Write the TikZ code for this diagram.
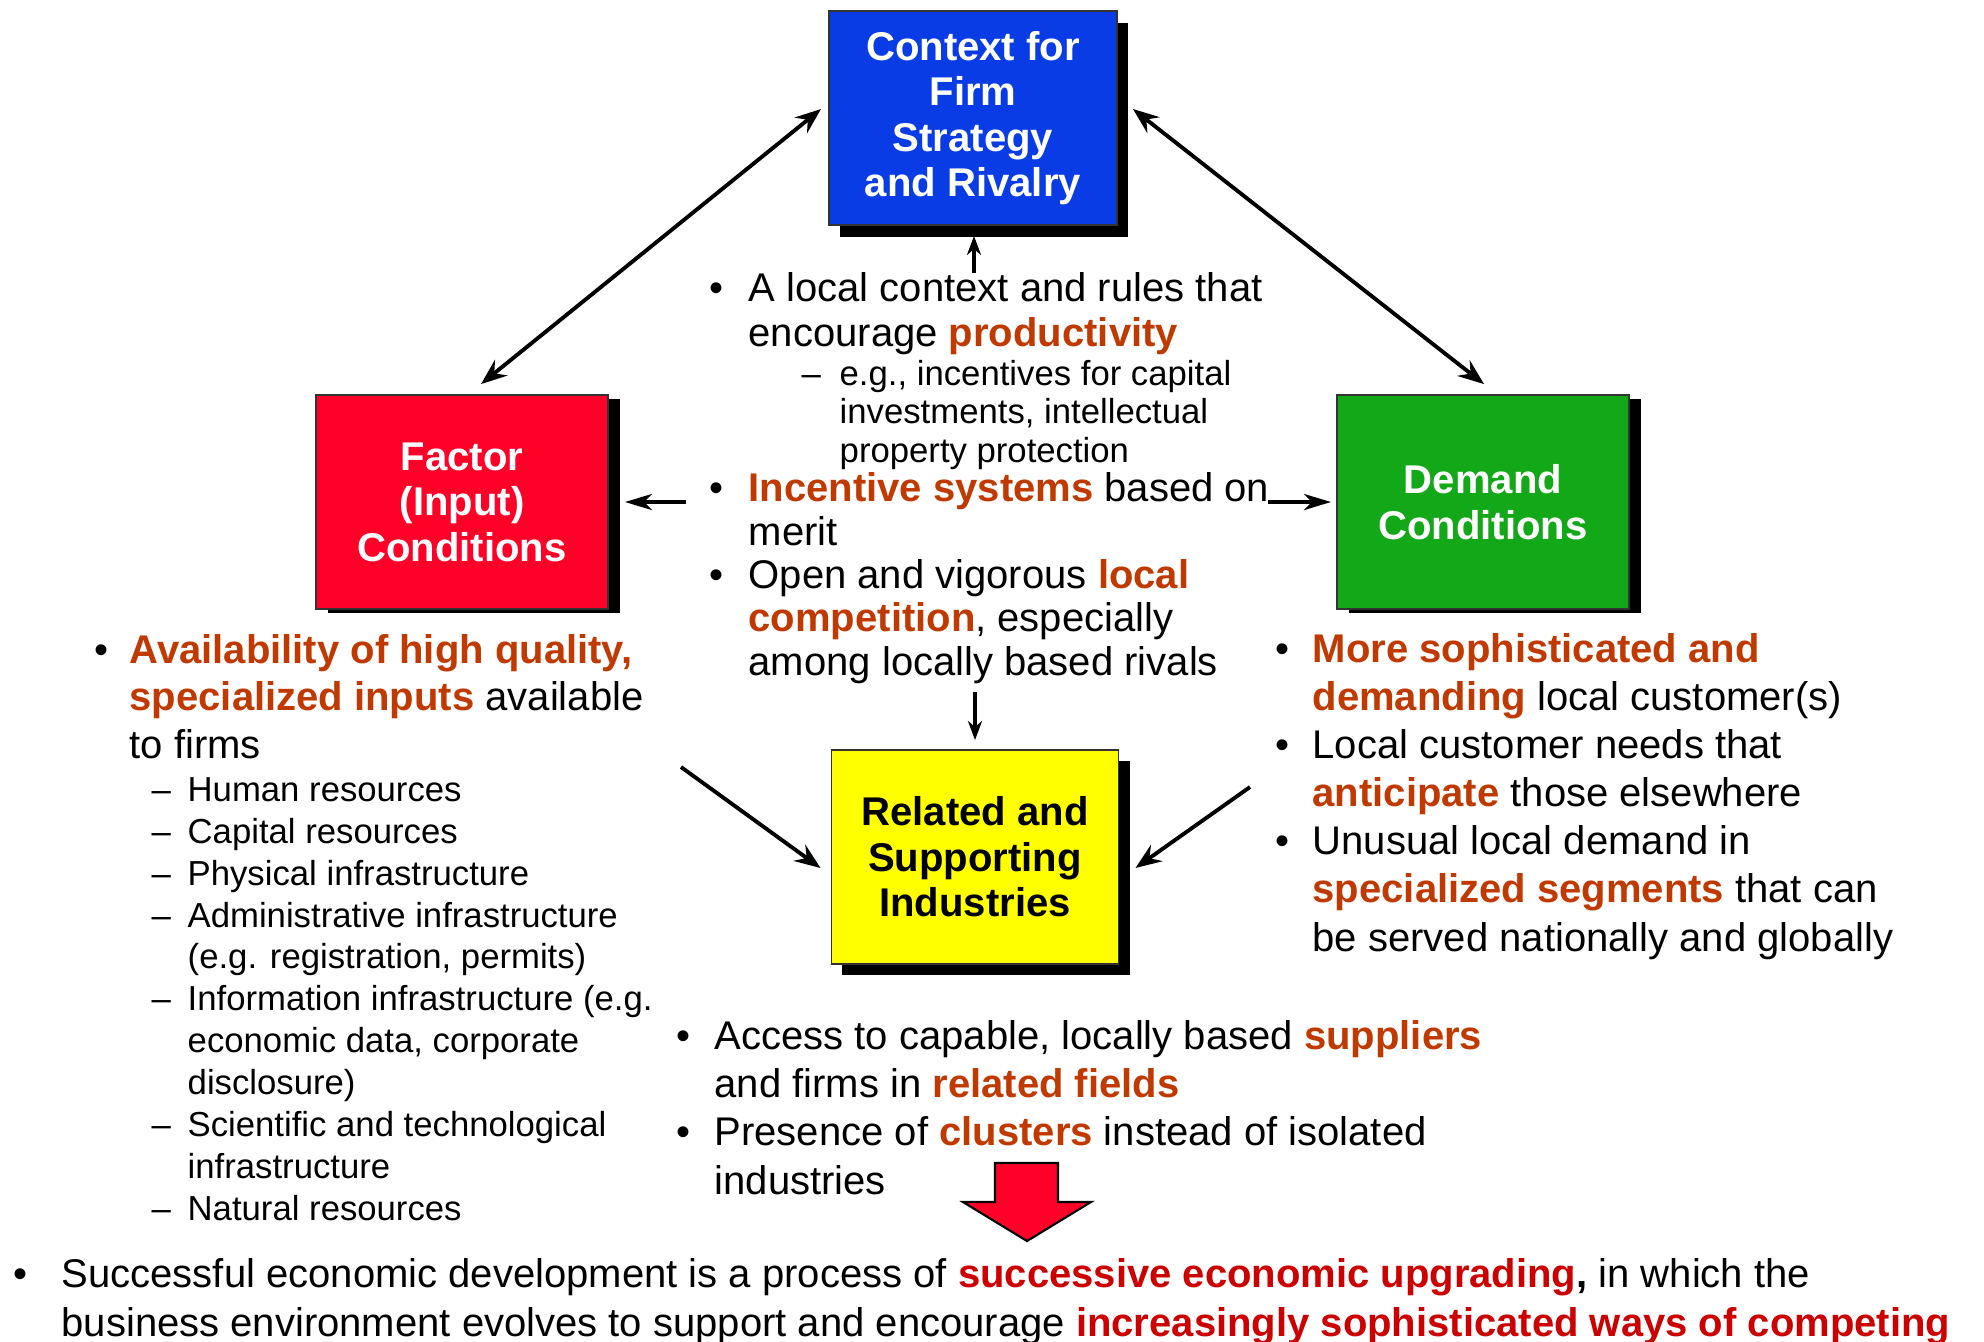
\documentclass[tikz,border=0pt]{standalone}
\usepackage{fontspec}
\setmainfont{Liberation Sans}
\definecolor{myblue}{RGB}{10,60,230}
\definecolor{myred}{RGB}{255,0,40}
\definecolor{mygreen}{RGB}{18,168,24}
\definecolor{myyellow}{RGB}{255,255,0}
\definecolor{myorange}{RGB}{192,57,0}
\definecolor{mydarkred}{RGB}{204,0,0}
\usetikzlibrary{arrows.meta,shadows,calc}
\newcommand{\hilite}[1]{{\bfseries\color{myorange}#1}}
\newcommand{\hired}[1]{{\bfseries\color{mydarkred}#1}}
\newcommand{\bul}[1][0.37cm]{\llap{\makebox[#1][l]{\textbullet}}}
\newcommand{\subdash}[1][0.36cm]{\llap{\makebox[#1][l]{\textendash}}}
\tikzset{arrowtip/.style={-{Stealth[length=0.26cm,width=0.2cm,inset=0.09cm]}}}

\begin{document}
\begin{tikzpicture}[x=0.01cm, y=-0.01cm,
  force/.style={rectangle, draw=black!80, line width=0.5pt, inner sep=0pt,
    minimum width=2.9cm, minimum height=2.14cm, align=center, text=white,
    font=\bfseries\fontsize{11.4pt}{12.95pt}\selectfont},
  dropsh/.style 2 args={general shadow={fill=black, shadow xshift=#1, shadow yshift=#2}},
  % texts are placed by the baseline of their last line
  bodytxt/.style={anchor=base west, inner sep=0pt, align=left,
    font=\fontsize{11.38pt}{#1}\selectfont},
  bodytxt/.default=13.66pt,
  subtxt/.style={anchor=base west, inner sep=0pt, align=left,
    font=\fontsize{9.87pt}{#1}\selectfont},
  subtxt/.default=11.9pt,
  dbl/.style={{Stealth[length=0.26cm,width=0.2cm,inset=0.09cm]}-{Stealth[length=0.26cm,width=0.2cm,inset=0.09cm]}, line width=1.1pt},
  bigarr/.style={arrowtip, line width=1.1pt},
  sidearr/.style={-{Stealth[length=0.27cm,width=0.16cm,inset=0.08cm]}, line width=1.2pt},
  smallarr/.style={-{Stealth[length=0.19cm,width=0.14cm,inset=0.06cm]}, line width=1pt}
  ]
  \useasboundingbox (0,0) rectangle (1984,1341);

  % the four boxes
  \node[force, fill=myblue, minimum width=2.88cm, dropsh={0.11cm}{-0.12cm}] (ctx) at (973,118)
    {Context for\\Firm\\Strategy\\and Rivalry};
  \node[force, fill=myred, minimum width=2.92cm, dropsh={0.12cm}{-0.04cm}] (factor) at (462,502)
    {Factor\\(Input)\\Conditions};
  \node[force, fill=mygreen, minimum width=2.92cm, dropsh={0.12cm}{-0.04cm}] (demand) at (1483,502)
    {Demand\\Conditions};
  \node[force, fill=myyellow, text=black, minimum width=2.87cm, dropsh={0.11cm}{-0.11cm}] (related) at (975,857)
    {Related and\\Supporting\\Industries};

  % strategy and rivalry
  \node[bodytxt=12.52pt] (ctxA) at (748,346)
    {\bul[0.39cm]A local context and rules that\\
     encourage \hilite{productivity}};
  \node[subtxt=10.95pt] (ctxB) at (839,462)
    {\subdash[0.38cm]e.g., incentives for capital\\
     investments, intellectual\\
     property protection};
  \node[bodytxt=12.32pt] (ctxC) at (748,675)
    {\bul[0.39cm]\hilite{Incentive systems} based on\\
     merit\\
     \bul[0.39cm]Open and vigorous \hilite{local}\\
     \hilite{competition}, especially\\
     among locally based rivals};

  % factor conditions
  \node[bodytxt=13.5pt] (factA) at (129,758)
    {\bul[0.35cm]\hilite{Availability of high quality,}\\
     \hilite{specialized inputs} available\\
     to firms};
  \node[subtxt] (factB) at (187,1220)
    {\subdash Human resources\\
     \subdash Capital resources\\
     \subdash Physical infrastructure\\
     \subdash Administrative infrastructure\\
     (e.g. registration, permits)\\
     \subdash Information infrastructure (e.g.\\
     economic data, corporate\\
     disclosure)\\
     \subdash Scientific and technological\\
     infrastructure\\
     \subdash Natural resources};

  % demand conditions
  \node[bodytxt] (demA) at (1312,951)
    {\bul\hilite{More sophisticated and}\\
     \hilite{demanding} local customer(s)\\
     \bul Local customer needs that\\
     \hilite{anticipate} those elsewhere\\
     \bul Unusual local demand in\\
     \hilite{specialized segments} that can\\
     be served nationally and globally};

  % related and supporting industries
  \node[bodytxt] (relA) at (714,1194)
    {\bul[0.38cm]Access to capable, locally based \hilite{suppliers}\\
     and firms in \hilite{related fields}\\
     \bul[0.38cm]Presence of \hilite{clusters} instead of isolated\\
     industries};

  % the conclusion
  \node[bodytxt] (devA) at (61,1336)
    {\bul[0.48cm]Successful economic development is a process of \hired{successive economic upgrading}\textbf{,} in which the\\
     business environment evolves to support and encourage \hired{increasingly sophisticated ways of competing}};

  % the arrows
  \draw[dbl] ($(ctx.west)+(-7,-9)$) -- ($(factor.north)+(19,-10)$);
  \draw[dbl] ($(ctx.east)+(15,-9)$) -- ($(demand.north)+(1,-10)$);
  \draw[smallarr] ($(ctx.south)+(1,47)$) -- ($(ctx.south)+(1,10)$);
  \draw[smallarr] ($(related.north)+(0,-57)$) -- ($(related.north)+(0,-9)$);
  \draw[sidearr] ($(factor.east)+(77,0)$) -- ($(factor.east)+(16,0)$);
  \draw[sidearr] ($(demand.west)+(-68,0)$) -- ($(demand.west)+(-5,0)$);
  \coordinate (f2r) at (681,767);
  \coordinate (d2r) at (1250,787);
  \draw[bigarr] (f2r) -- ($(related.west)+(-10,11)$);
  \draw[bigarr] (d2r) -- ($(related.east)+(16,11)$);

  % the big arrow down
  \filldraw[fill=myred, draw=black, line width=0.6pt]
    (995,1163) -- (1058,1163) -- (1058,1202) -- (1091,1202)
    -- (1027,1241) -- (963,1202) -- (995,1202) -- cycle;
\end{tikzpicture}
\end{document}
